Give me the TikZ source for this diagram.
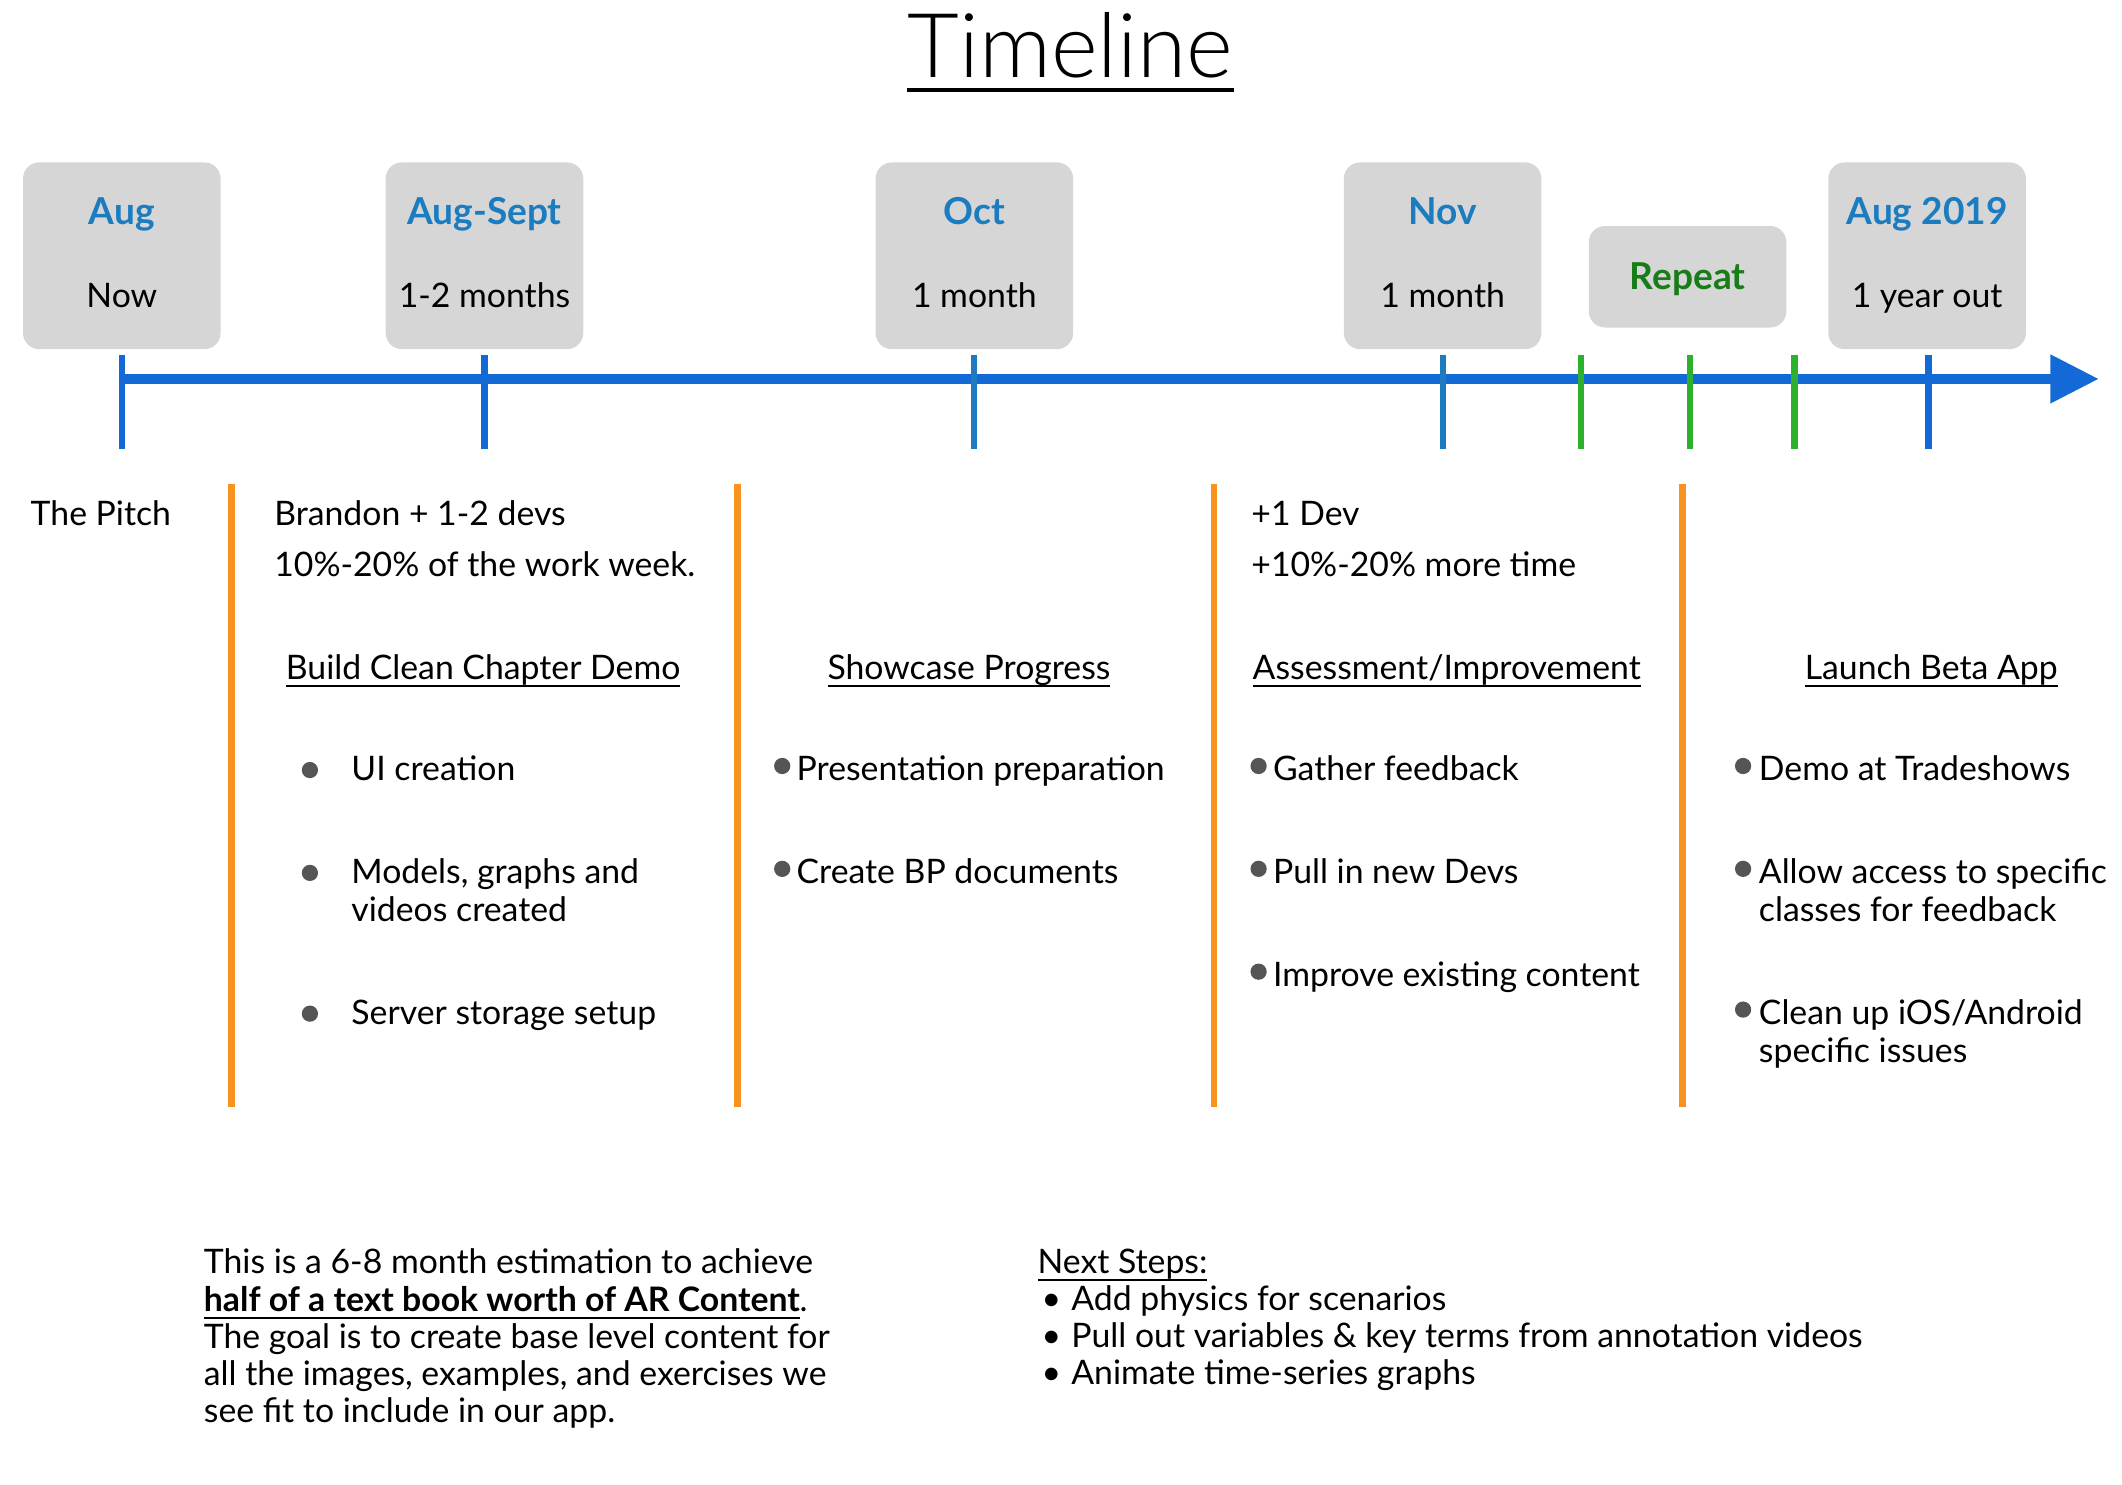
\documentclass[tikz,border=0pt]{standalone}
\usepackage{fontspec}
\setmainfont{Lato}
\newfontfamily\thinfont{Lato Light}
\usepackage{tikz}
\usetikzlibrary{arrows.meta}

\definecolor{boxgray}{RGB}{214,214,214}
\definecolor{lblblue}{RGB}{28,124,192}
\definecolor{rptgreen}{RGB}{24,125,24}
\definecolor{axisblue}{RGB}{19,106,214}
\definecolor{tickteal}{RGB}{30,123,191}
\definecolor{tickgreen}{RGB}{45,176,45}
\definecolor{barorange}{RGB}{247,147,30}
\definecolor{dotgray}{RGB}{85,85,85}

\newcommand{\undertext}[1]{\underline{\smash{#1}}}

\begin{document}
\begin{tikzpicture}[
  datebox/.style={fill=boxgray, rounded corners=0.12cm, minimum width=1.46cm, minimum height=1.38cm, inner sep=0cm},
  toplbl/.style={color=lblblue, font=\fontsize{7.8pt}{8pt}\selectfont\bfseries, anchor=base, inner sep=0cm},
  sublbl/.style={color=black, font=\fontsize{7.1pt}{8pt}\selectfont, anchor=base, inner sep=0cm},
  bodytext/.style={font=\fontsize{7.1pt}{7.97pt}\selectfont, anchor=base west, inner sep=0cm, align=left},
  heading/.style={font=\fontsize{7.1pt}{8pt}\selectfont, anchor=base, inner sep=0cm},
  tickmark/.style={line width=0.045cm},
  phaseline/.style={line width=0.05cm, color=barorange},
  bulletdot/.style={fill=dotgray}
]
\useasboundingbox (0cm,0cm) rectangle (15.68cm,-10.97cm);

\node [anchor=base, inner sep=0cm, font=\fontsize{18.8pt}{20pt}\selectfont\thinfont] (title) at (7.91cm,-0.57cm) {Timeline};
\draw [line width=0.025cm] ([yshift=-0.095cm]title.base west) -- ([yshift=-0.095cm]title.base east);

\node [datebox] (aug) at (0.90cm,-1.89cm) {};
\node [toplbl] (augtop) at ([yshift=0.23cm]aug.center) {Aug};
\node [sublbl] (augsub) at ([yshift=-0.38cm]aug.center) {Now};

\node [datebox] (augsept) at (3.58cm,-1.89cm) {};
\node [toplbl] (augsepttop) at ([yshift=0.23cm]augsept.center) {Aug-Sept};
\node [sublbl] (augseptsub) at ([yshift=-0.38cm]augsept.center) {1-2 months};

\node [datebox] (oct) at (7.20cm,-1.89cm) {};
\node [toplbl] (octtop) at ([yshift=0.23cm]oct.center) {Oct};
\node [sublbl] (octsub) at ([yshift=-0.38cm]oct.center) {1 month};

\node [datebox] (nov) at (10.66cm,-1.89cm) {};
\node [toplbl] (novtop) at ([yshift=0.23cm]nov.center) {Nov};
\node [sublbl] (novsub) at ([yshift=-0.38cm]nov.center) {1 month};

\node [datebox, minimum height=0.75cm] (repeat) at (12.47cm,-2.045cm) {};
\node [toplbl, color=rptgreen] (repeattop) at ([yshift=-0.095cm]repeat.center) {Repeat};

\node [datebox] (augnext) at (14.24cm,-1.89cm) {};
\node [toplbl] (augnexttop) at ([yshift=0.23cm]augnext.center) {Aug 2019};
\node [sublbl] (augnextsub) at ([yshift=-0.38cm]augnext.center) {1 year out};

\coordinate (axstart) at (0.90cm,-2.80cm);
\coordinate (axend) at (15.51cm,-2.80cm);
\draw [line width=0.08cm, color=axisblue, -{Triangle[length=0.36cm,width=0.34cm]}] (axstart) -- (axend);

\draw [tickmark, color=axisblue] (0.90cm,-2.62cm) -- (0.90cm,-3.32cm);
\draw [tickmark, color=axisblue] (3.58cm,-2.62cm) -- (3.58cm,-3.32cm);
\draw [tickmark, color=tickteal] (7.20cm,-2.62cm) -- (7.20cm,-3.32cm);
\draw [tickmark, color=tickteal] (10.66cm,-2.62cm) -- (10.66cm,-3.32cm);
\draw [tickmark, color=tickgreen] (11.68cm,-2.62cm) -- (11.68cm,-3.32cm);
\draw [tickmark, color=tickgreen] (12.49cm,-2.62cm) -- (12.49cm,-3.32cm);
\draw [tickmark, color=tickgreen] (13.26cm,-2.62cm) -- (13.26cm,-3.32cm);
\draw [tickmark, color=axisblue] (14.25cm,-2.62cm) -- (14.25cm,-3.32cm);

\draw [phaseline] (1.71cm,-3.58cm) -- (1.71cm,-8.18cm);
\draw [phaseline] (5.45cm,-3.58cm) -- (5.45cm,-8.18cm);
\draw [phaseline] (8.97cm,-3.58cm) -- (8.97cm,-8.18cm);
\draw [phaseline] (12.43cm,-3.58cm) -- (12.43cm,-8.18cm);

\node [bodytext] (pitch) at (0.22cm,-3.88cm) {The Pitch};
\node [bodytext] (brandon) at (2.02cm,-3.88cm) {Brandon + 1-2 devs};
\node [bodytext] (worktime) at (2.02cm,-4.26cm) {10\%-20\% of the work week.};
\node [bodytext] (onedev) at (9.24cm,-3.88cm) {+1 Dev};
\node [bodytext] (moretime) at (9.24cm,-4.26cm) {+10\%-20\% more time};

\node [heading] (hdbuild) at (3.57cm,-5.02cm) {\undertext{Build Clean Chapter Demo}};
\node [heading] (hdshow) at (7.16cm,-5.02cm) {\undertext{Showcase Progress}};
\node [heading] (hdassess) at (10.69cm,-5.02cm) {\undertext{Assessment/Improvement}};
\node [heading] (hdlaunch) at (14.27cm,-5.02cm) {\undertext{Launch Beta App}};

\fill [bulletdot] (2.29cm,-5.69cm) circle (0.06cm);
\fill [bulletdot] (2.29cm,-6.45cm) circle (0.06cm);
\fill [bulletdot] (2.29cm,-7.49cm) circle (0.06cm);
\node [bodytext] (uicreate) at (2.59cm,-5.77cm) {UI creation};
\node [bodytext] (models) at (2.59cm,-6.81cm) {Models, graphs and\\videos created};
\node [bodytext] (server) at (2.59cm,-7.57cm) {Server storage setup};

\fill [bulletdot] (5.78cm,-5.66cm) circle (0.06cm);
\fill [bulletdot] (5.78cm,-6.42cm) circle (0.06cm);
\node [bodytext] (present) at (5.88cm,-5.77cm) {Presentation preparation};
\node [bodytext] (bpdocs) at (5.88cm,-6.53cm) {Create BP documents};

\fill [bulletdot] (9.30cm,-5.66cm) circle (0.06cm);
\fill [bulletdot] (9.30cm,-6.42cm) circle (0.06cm);
\fill [bulletdot] (9.30cm,-7.18cm) circle (0.06cm);
\node [bodytext] (feedback) at (9.40cm,-5.77cm) {Gather feedback};
\node [bodytext] (newdevs) at (9.40cm,-6.53cm) {Pull in new Devs};
\node [bodytext] (improve) at (9.40cm,-7.29cm) {Improve existing content};

\fill [bulletdot] (12.88cm,-5.66cm) circle (0.06cm);
\fill [bulletdot] (12.88cm,-6.42cm) circle (0.06cm);
\fill [bulletdot] (12.88cm,-7.46cm) circle (0.06cm);
\node [bodytext] (tradeshow) at (12.99cm,-5.77cm) {Demo at Tradeshows};
\node [bodytext] (access) at (12.99cm,-6.81cm) {Allow access to specific\\classes for feedback};
\node [bodytext] (cleanup) at (12.99cm,-7.85cm) {Clean up iOS/Android\\specific issues};

\node [bodytext, font=\fontsize{7.1pt}{7.8pt}\selectfont] (summary) at (1.50cm,-10.51cm) {This is a 6-8 month estimation to achieve\\\textbf{\undertext{half of a text book worth of AR Content}}.\\The goal is to create base level content for\\all the images, examples, and exercises we\\see fit to include in our app.};

\node [bodytext, font=\fontsize{7.1pt}{7.8pt}\selectfont] (nextsteps) at (7.66cm,-10.23cm) {\undertext{Next Steps:}\\\makebox[0.25cm][l]{\hspace{0.03cm}\textbullet}Add physics for scenarios\\\makebox[0.25cm][l]{\hspace{0.03cm}\textbullet}Pull out variables \& key terms from annotation videos\\\makebox[0.25cm][l]{\hspace{0.03cm}\textbullet}Animate time-series graphs};

\end{tikzpicture}
\end{document}
